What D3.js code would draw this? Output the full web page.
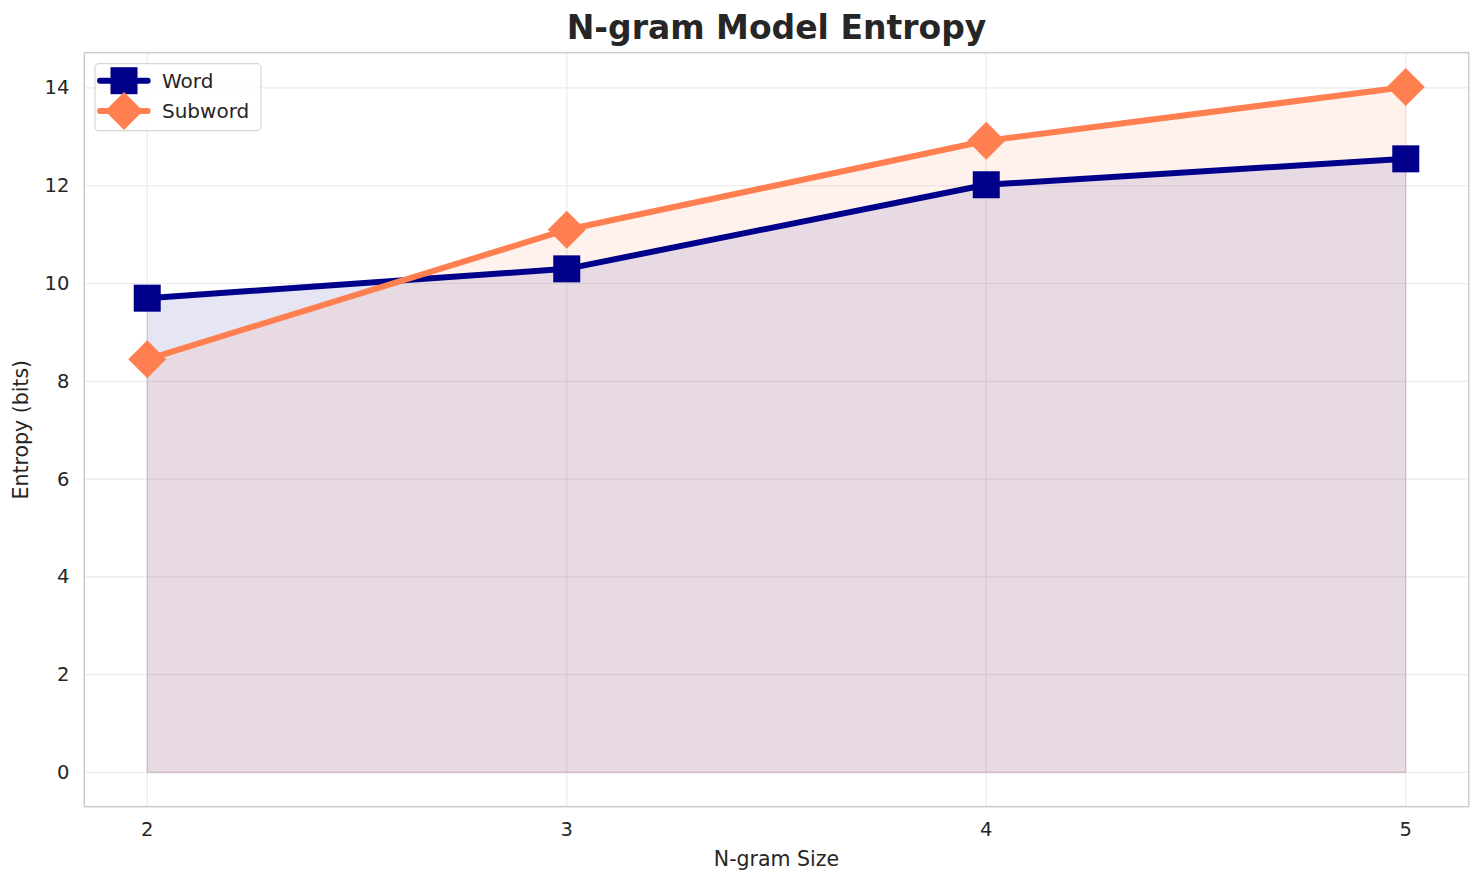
<!DOCTYPE html>
<html>
<head>
<meta charset="utf-8">
<script src="https://cdn.jsdelivr.net/npm/d3@7"></script>
<style>
  body { margin: 0; background: #fff; }
  text { font-family: "DejaVu Sans", sans-serif; fill: #262626; }
</style>
</head>
<body>
<div id="chart"></div>
<script>
// data
const ngramSizes = [2, 3, 4, 5];
const wordEntropy = [9.7, 10.3, 12.02, 12.55];
const subwordEntropy = [8.45, 11.1, 12.92, 14.02];
const yTicks = [0, 2, 4, 6, 8, 10, 12, 14];

const series = [
  { name: "Word", values: wordEntropy, color: "#00008b", marker: "square" },
  { name: "Subword", values: subwordEntropy, color: "#ff7f50", marker: "diamond" }
];

const W = 1484, H = 885;
const plot = { left: 84.3, right: 1468.7, top: 52.7, bottom: 806.7 };

const svg = d3.select("#chart").append("svg")
  .attr("width", W).attr("height", H);

// matplotlib-style 5% margins
const xMin = d3.min(ngramSizes), xMax = d3.max(ngramSizes);
const xPad = (xMax - xMin) * 0.05;
const yMax = d3.max([...wordEntropy, ...subwordEntropy]);
const yPad = yMax * 0.05;

const x = d3.scaleLinear().domain([xMin - xPad, xMax + xPad]).range([plot.left, plot.right]);
const y = d3.scaleLinear().domain([0 - yPad, yMax + yPad]).range([plot.bottom, plot.top]);

// grid
const grid = svg.append("g");
grid.selectAll("line.h").data(yTicks).join("line")
  .attr("x1", plot.left).attr("x2", plot.right)
  .attr("y1", d => y(d)).attr("y2", d => y(d))
  .attr("stroke", "#ebebeb").attr("stroke-width", 1.2);
grid.selectAll("line.v").data(ngramSizes).join("line")
  .attr("y1", plot.top).attr("y2", plot.bottom)
  .attr("x1", d => x(d)).attr("x2", d => x(d))
  .attr("stroke", "#ebebeb").attr("stroke-width", 1.2);

// fills under each series
const area = d3.area().x((d, i) => x(ngramSizes[i])).y0(y(0)).y1(d => y(d));
svg.append("g").selectAll("path").data(series).join("path")
  .attr("d", s => area(s.values))
  .attr("fill", s => s.color).attr("fill-opacity", 0.1)
  .attr("stroke", s => s.color).attr("stroke-opacity", 0.1).attr("stroke-width", 1.5);

// lines + markers
const line = d3.line().x((d, i) => x(ngramSizes[i])).y(d => y(d));

function drawMarker(g, type, color) {
  if (type === "square") {
    g.append("rect").attr("x", -13.5).attr("y", -13.5).attr("width", 27).attr("height", 27)
      .attr("fill", color);
  } else {
    g.append("path").attr("d", "M0,-19L19,0L0,19L-19,0Z").attr("fill", color);
  }
}

series.forEach(s => {
  const g = svg.append("g");
  g.append("path").attr("d", line(s.values))
    .attr("fill", "none").attr("stroke", s.color).attr("stroke-width", 6)
    .attr("stroke-linejoin", "round").attr("stroke-linecap", "round");
  s.values.forEach((v, i) => {
    const m = g.append("g").attr("transform", `translate(${x(ngramSizes[i])},${y(v)})`);
    drawMarker(m, s.marker, s.color);
  });
});

// frame
svg.append("rect")
  .attr("x", plot.left).attr("y", plot.top)
  .attr("width", plot.right - plot.left).attr("height", plot.bottom - plot.top)
  .attr("fill", "none").attr("stroke", "#cccccc").attr("stroke-width", 1.5);

// tick labels
svg.append("g").selectAll("text").data(yTicks).join("text")
  .attr("x", plot.left - 15).attr("y", d => y(d))
  .attr("text-anchor", "end").attr("dominant-baseline", "central")
  .style("font-size", "19.5px")
  .text(d => d);
svg.append("g").selectAll("text").data(ngramSizes).join("text")
  .attr("x", d => x(d)).attr("y", plot.bottom + 23)
  .attr("text-anchor", "middle").attr("dominant-baseline", "central")
  .style("font-size", "19.5px")
  .text(d => d);

// axis labels and title
svg.append("text")
  .attr("x", (plot.left + plot.right) / 2).attr("y", 866)
  .attr("text-anchor", "middle").style("font-size", "20.5px")
  .text("N-gram Size");
svg.append("text")
  .attr("transform", `translate(28,${(plot.top + plot.bottom) / 2}) rotate(-90)`)
  .attr("text-anchor", "middle").style("font-size", "20.5px")
  .text("Entropy (bits)");
svg.append("text")
  .attr("x", (plot.left + plot.right) / 2).attr("y", 39)
  .attr("text-anchor", "middle").style("font-size", "33px").style("font-weight", "bold")
  .text("N-gram Model Entropy");

// legend
const legend = svg.append("g");
legend.append("rect")
  .attr("x", 95).attr("y", 63.7).attr("width", 166).attr("height", 67).attr("rx", 4)
  .attr("fill", "#fff").attr("fill-opacity", 0.8)
  .attr("stroke", "#d6d6d6").attr("stroke-width", 1.2);
const rows = legend.selectAll("g").data(series).join("g")
  .attr("transform", (d, i) => `translate(0,${80.7 + i * 30.3})`);
rows.append("line")
  .attr("x1", 100).attr("x2", 147.7).attr("y1", 0).attr("y2", 0)
  .attr("stroke", d => d.color).attr("stroke-width", 6).attr("stroke-linecap", "round");
rows.each(function (d) {
  const m = d3.select(this).append("g").attr("transform", "translate(124,0)");
  drawMarker(m, d.marker, d.color);
});
rows.append("text")
  .attr("x", 162).attr("y", 0).attr("dominant-baseline", "central")
  .style("font-size", "20px")
  .text(d => d.name);
</script>
</body>
</html>
